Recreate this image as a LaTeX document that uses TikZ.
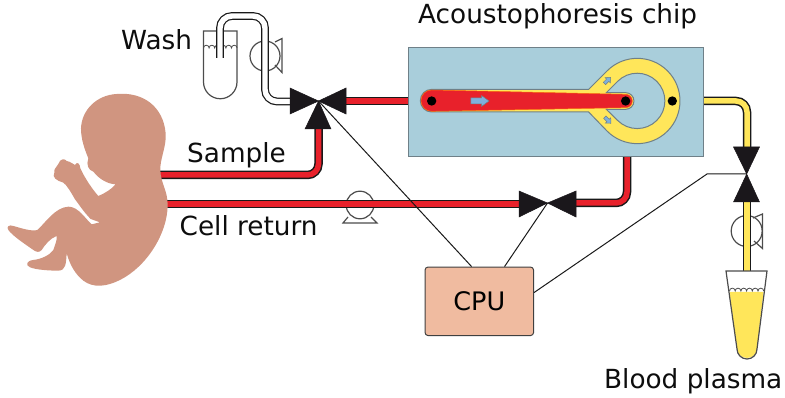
\documentclass[tikz,border=0pt]{standalone}
\usepackage{fontspec}
\setmainfont{DejaVu Sans}
\usetikzlibrary{calc}
\definecolor{pipered}{HTML}{E8212B}
\definecolor{pipeyellow}{HTML}{FFE65A}
\definecolor{chipblue}{HTML}{A9CEDB}
\definecolor{chipedge}{HTML}{6F8088}
\definecolor{skin}{HTML}{D09580}
\definecolor{cpufill}{HTML}{F0BBA0}
\definecolor{flowblue}{HTML}{7FB0DC}
\definecolor{valveblack}{HTML}{1A171B}
\tikzset{
  labeltext/.style={font=\fontsize{26.3}{30}\selectfont,inner sep=0pt,anchor=base west,text=black!95},
  ctrl/.style={draw=black!90,line width=1pt},
  thin outline/.style={draw=black!70,line width=1.2pt},
  valvetip/.style={fill=valveblack,draw=valveblack,line width=.5pt,line join=miter},
  flow/.style={fill=flowblue,draw=chipedge,line width=.5pt},
  channel/.style={draw=chipedge,line width=1pt,fill=pipeyellow},
}
% A pipe is a thick dark stroke with a narrower coloured stroke on top
\newcommand{\pipe}[2]{%
  \draw[black!90,line width=8.5pt,rounded corners=11pt] #2;
  \draw[#1,line width=5.5pt,rounded corners=11pt] #2;}
\begin{document}
\begin{tikzpicture}[x=1pt,y=-1pt]
\useasboundingbox (0,0) rectangle (785,398);

% Named junctions of the circuit
\coordinate (samplevalve) at (318.5,101);
\coordinate (returnvalve) at (547.5,203);
\coordinate (plasmavalve) at (746.7,174);
\coordinate (kneeline) at (707,174);

% Pipes
\pipe{pipered}{(160,175) -- (318.5,175) -- (318.5,125)}
\pipe{pipered}{(160,204) -- (525,204)}
\pipe{pipered}{(340,101) -- (410,101)}
\pipe{pipered}{(570,203) -- (627,203) -- (627,154)}
\pipe{pipeyellow}{(700,101) -- (747,101) -- (747,155)}
\pipe{pipeyellow}{(747,195) -- (747,271)}

% Fetus silhouette
\begin{scope}[shift={(0,90)},x=.3333pt,y=-.3333pt]
\fill[skin] (350,12)
  .. controls (430,5) and (490,50) .. (497,130)
  .. controls (500,170) and (480,205) .. (481,240)
  .. controls (482,280) and (503,300) .. (503,345)
  .. controls (503,430) and (440,530) .. (360,570)
  .. controls (320,590) and (280,595) .. (250,572)
  .. controls (225,552) and (210,525) .. (200,490)
  .. controls (198,520) and (198,542) .. (175,542)
  .. controls (150,542) and (110,540) .. (90,532)
  .. controls (75,525) and (80,512) .. (100,510)
  .. controls (125,507) and (150,495) .. (160,480)
  .. controls (165,465) and (172,450) .. (170,438)
  .. controls (150,445) and (135,465) .. (125,480)
  .. controls (118,488) and (110,487) .. (100,480)
  .. controls (75,462) and (40,440) .. (25,420)
  .. controls (18,410) and (28,403) .. (40,408)
  .. controls (65,415) and (95,425) .. (112,420)
  .. controls (135,400) and (165,352) .. (205,350)
  .. controls (235,350) and (255,385) .. (275,403)
  -- (300,397) -- (272,387)
  .. controls (250,365) and (235,340) .. (225,328)
  .. controls (212,305) and (200,285) .. (190,278)
  .. controls (170,272) and (155,262) .. (163,248)
  .. controls (160,235) and (172,232) .. (175,222)
  .. controls (180,205) and (195,205) .. (200,213)
  .. controls (212,215) and (218,222) .. (225,225)
  .. controls (232,212) and (240,222) .. (241,235)
  .. controls (255,265) and (275,295) .. (295,318)
  .. controls (315,310) and (335,297) .. (347,283)
  .. controls (325,282) and (300,270) .. (280,245)
  .. controls (265,240) and (258,225) .. (265,205)
  .. controls (255,180) and (243,150) .. (243,115)
  .. controls (245,60) and (290,15) .. (350,12) -- cycle;
\end{scope}

% Acoustophoresis chip
\node[draw=chipedge,fill=chipblue,line width=1.2pt,minimum width=295pt,minimum height=109pt,inner sep=0pt,anchor=north west] (chip) at (408,47) {};
\begin{scope}[shift={(400,40)},x=.3333pt,y=-.3333pt]
  % sheath channel and circular bypass
  \draw[channel] (95,148) -- (566,148) -- (621.5,92.5)
    arc[start angle=-135,end angle=135,radius=128]
    -- (566,216) -- (95,216) arc[start angle=90,end angle=270,radius=34] -- cycle;
  \draw[draw=chipedge,line width=1pt,fill=chipblue] (618,159) -- (653,124)
    arc[start angle=-135,end angle=135,radius=83] -- (618,207) -- cycle;
  % central channel
  \fill[pipeyellow] (610,158) -- (677,158) arc[start angle=-90,end angle=90,radius=25] -- (610,208) -- cycle;
  \draw[chipedge,line width=1pt] (618,158) -- (677,158) arc[start angle=-90,end angle=90,radius=25] -- (618,208);
  \draw[fill=pipered,draw=orange!70!pipered,line width=.5pt] (95,150) -- (677,163)
    arc[start angle=-90,end angle=90,radius=20] -- (95,214)
    arc[start angle=90,end angle=270,radius=32] -- cycle;
  % outlets
  \fill[black] (95,183) circle[radius=14];
  \fill[black] (677,183) circle[radius=14];
  \fill[black] (817,183) circle[radius=14];
  % flow arrows
  \draw[flow] (213,174) -- (245,174) -- (245,167) -- (267,183) -- (245,199) -- (245,192) -- (213,192) -- cycle;
  \begin{scope}[shift={(622,122)},rotate=45]
    \draw[flow] (-12,-5) -- (2,-5) -- (2,-11) -- (14,0) -- (2,11) -- (2,5) -- (-12,5) -- cycle;
  \end{scope}
  \begin{scope}[shift={(623,240)},rotate=-45]
    \draw[flow] (-12,-5) -- (2,-5) -- (2,-11) -- (14,0) -- (2,11) -- (2,5) -- (-12,5) -- cycle;
  \end{scope}
\end{scope}

% Wash vial, its pump and tubing
\draw[thin outline] (203.5,31) -- (237,31) -- (237,82)
  arc[start angle=0,end angle=180,radius=16.75] -- cycle;
\draw[thin outline,line width=.8pt] (203.5,48) \foreach \i in {1,...,6} { arc[start angle=180,end angle=360,radius=2.8] };
\draw[thin outline,fill=white] (265,56) circle[radius=15];
\draw[thin outline,line join=miter] (275,42) -- (282,38.5) -- (282,72.5) -- (275,65);
\draw[black!90,line width=7.8pt,rounded corners=12pt] (220,58) -- (220,16) -- (265,16) -- (265,101.5) -- (292,101.5);
\draw[white,line width=5.4pt,rounded corners=12pt] (220,58.1) -- (220,16) -- (265,16) -- (265,101.5) -- (292,101.5);

% Return line pump
\draw[thin outline,line join=miter] (348,217) -- (343,223) -- (377,223) -- (371,217);
\draw[thin outline] (360,205) circle[radius=13.8];
\pipe{pipered}{(340,204) -- (380,204)}

% Plasma line pump
\draw[thin outline] (746.7,215.5) arc[start angle=-90,end angle=-270,radius=15.5];
\draw[thin outline] (746.7,215.5) arc[start angle=-90,end angle=90,radius=15.5];
\draw[thin outline,line join=miter] (753,218) -- (762.5,214) -- (762.5,248.5) -- (754,241);
\pipe{pipeyellow}{(747,205) -- (747,271)}

% Collection tube with plasma
\fill[pipeyellow] (729.5,292) -- (763.5,292) -- (757,348) arc[start angle=0,end angle=180,radius=10] -- cycle;
\draw[thin outline] (726,271) -- (767,271) -- (757,349)
  arc[start angle=0,end angle=180,radius=10] -- cycle;
\draw[thin outline,line width=.8pt] (729.5,291) \foreach \i in {1,...,6} { arc[start angle=180,end angle=360,radius=2.85] };

% Valves
\draw[valvetip] (samplevalve) -- (290,88) -- (290,114) -- cycle;
\draw[valvetip] (samplevalve) -- (346,88) -- (346,114) -- cycle;
\draw[valvetip] (samplevalve) -- (305,129) -- (331,129) -- cycle;
\draw[valvetip] (returnvalve) -- (519,191) -- (519,217) -- cycle;
\draw[valvetip] (returnvalve) -- (576,191) -- (576,217) -- cycle;
\draw[valvetip] (plasmavalve) -- (733.5,147) -- (759.5,147) -- cycle;
\draw[valvetip] (plasmavalve) -- (733.5,202) -- (759.5,202) -- cycle;

% Controller and its signal lines
\node[draw=black!75,fill=cpufill,line width=1pt,rounded corners=3pt,minimum width=108.5pt,minimum height=68.5pt,inner sep=0pt,font=\fontsize{25.5}{28}\selectfont] (cpu) at (479.3,301.3) {\raisebox{-2pt}{CPU}};
\coordinate (cpuA) at ($(cpu.north west)+(47,0)$);
\coordinate (cpuB) at ($(cpu.north west)+(80,0)$);
\coordinate (cpuC) at ($(cpu.north east)+(0,26)$);
\draw[ctrl] (cpuA) -- (samplevalve);
\draw[ctrl] (cpuB) -- (returnvalve);
\draw[ctrl] (cpuC) -- (kneeline) -- (plasmavalve);

% Labels
\node[labeltext] (washlabel) at (121,50) {Wash};
\node[labeltext] (chiplabel) at (418,24) {Acoustophoresis chip};
\node[labeltext] (samplelabel) at (187,163) {Sample};
\node[labeltext] (returnlabel) at (179.5,236) {Cell return};
\node[labeltext] (plasmalabel) at (604,388) {Blood plasma};
\end{tikzpicture}
\end{document}
